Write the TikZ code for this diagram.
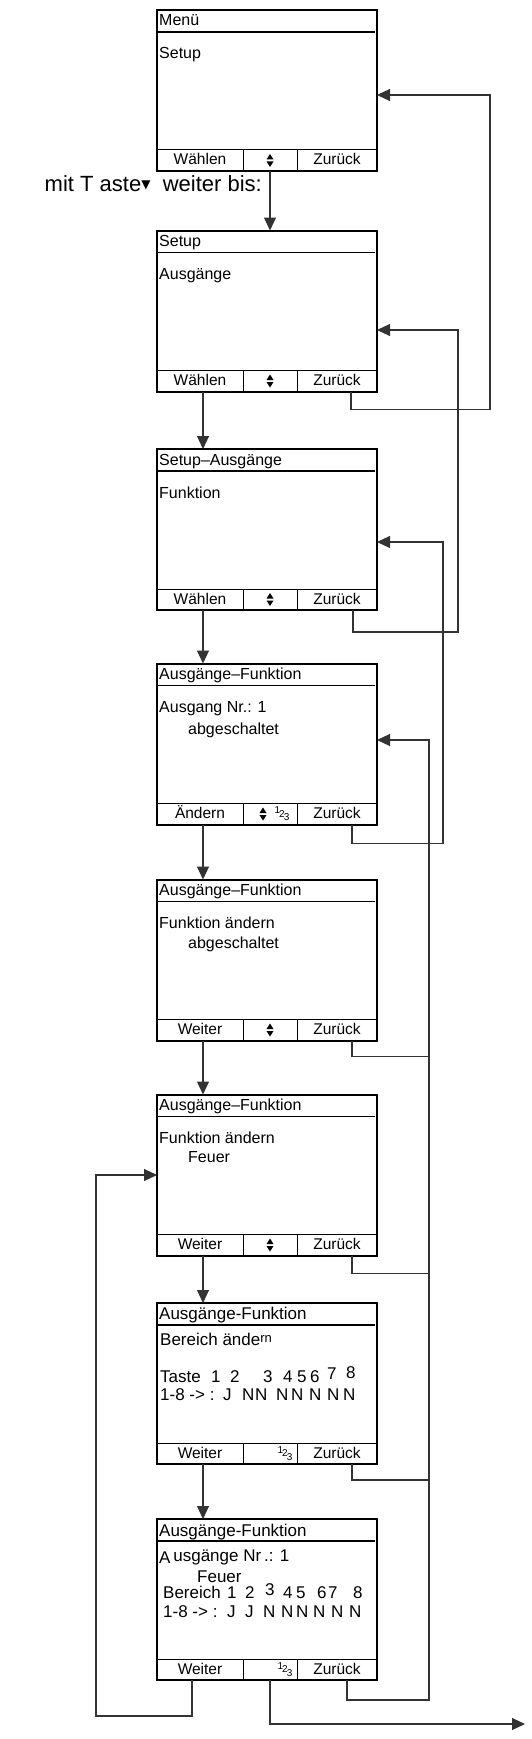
\documentclass[tikz,border=0pt]{standalone}
\usepackage{fontspec}
\setmainfont{Liberation Sans}
\newfontfamily\symfont{DejaVu Sans}
\usetikzlibrary{arrows.meta}
\newcommand{\onetwothree}{\fontsize{10}{10}\selectfont\raisebox{3.5pt}{1}\kern-1pt2\kern-1pt\raisebox{-3.5pt}{3}}
\begin{document}
\begin{tikzpicture}[x=1pt,y=-1pt,
	font=\fontsize{16}{19}\selectfont,
	screen/.style={draw,line width=2pt,minimum width=220pt,minimum height=161pt,inner sep=0pt,outer sep=0pt},
	cell/.style={draw,line width=1pt,minimum height=21pt,inner sep=0pt,outer sep=0pt,
		text height=9pt,text depth=0pt,font=\fontsize{15.5}{16}\selectfont},
	hline/.style={line width=1.2pt},
	txt/.style={anchor=base west,inner sep=0pt},
	big/.style={font=\fontsize{17}{20}\selectfont},
	arr/.style={line width=1.1pt,black!80,-{Triangle[length=13pt,width=12pt]}},
	link/.style={line width=1.1pt,black!80},
	updown/.pic={\fill (-3.5,-1) -- (3.5,-1) -- (0,-6.5) -- cycle (-3.5,1) -- (3.5,1) -- (0,6.5) -- cycle;}]
\useasboundingbox (0,0) rectangle (531,1739);

\node[screen] (s1) at (267,90.5) {};
\node[screen] (s2) at (267,311) {};
\node[screen] (s3) at (267,529.5) {};
\node[screen] (s4) at (267,744) {};
\node[screen] (s5) at (267,960) {};
\node[screen] (s6) at (267,1175) {};
\node[screen] (s7) at (267,1383.5) {};
\node[screen] (s8) at (267,1599.5) {};

\foreach \s/\a/\c in {s1/Wählen/Zurück,s2/Wählen/Zurück,s3/Wählen/Zurück,s4/Ändern/Zurück,
		s5/Weiter/Zurück,s6/Weiter/Zurück,s7/Weiter/Zurück,s8/Weiter/Zurück}{
	\draw[hline] ([yshift=-22pt]\s.north west) -- ([xshift=-2pt,yshift=-22pt]\s.north east);
	\node[cell,minimum width=86pt,anchor=south west] (\s-w) at (\s.south west) {\a};
	\node[cell,minimum width=54pt,anchor=south west] (\s-m) at (\s-w.south east) {};
	\node[cell,minimum width=80pt,anchor=south west] (\s-z) at (\s-m.south east) {\c};
}
\foreach \s in {s1,s2,s3,s5,s6}
	\pic at (\s-m) {updown};
\pic at ([xshift=-7pt]s4-m) {updown};
\node[inner sep=0pt] (s4-n) at ([xshift=12pt]s4-m) {\onetwothree};
\node[inner sep=0pt] (s7-n) at ([xshift=15pt]s7-m) {\onetwothree};
\node[inner sep=0pt] (s8-n) at ([xshift=15pt]s8-m) {\onetwothree};

\foreach \s/\t/\a in {s1/Menü/Setup,s2/Setup/Ausgänge,s3/Setup--Ausgänge/Funktion,
		s4/Ausgänge--Funktion/Ausgang Nr.: 1,s5/Ausgänge--Funktion/Funktion ändern,
		s6/Ausgänge--Funktion/Funktion ändern}{
	\node[txt] (\s-t) at ([xshift=2pt,yshift=-16pt]\s.north west) {\t};
	\node[txt] (\s-a) at ([xshift=2pt,yshift=-49pt]\s.north west) {\a};
}
\node[txt] (s4-b) at ([xshift=31pt,yshift=-71pt]s4.north west) {abgeschaltet};
\node[txt] (s5-b) at ([xshift=31pt,yshift=-69pt]s5.north west) {abgeschaltet};
\node[txt] (s6-b) at ([xshift=31pt,yshift=-68pt]s6.north west) {Feuer};

\node[txt,big] (s7-t) at ([xshift=2pt,yshift=-16pt]s7.north west) {Ausgänge-Funktion};
\node[txt,big] (s7-a) at ([xshift=3pt,yshift=-42pt]s7.north west) {Bereich ände\raisebox{3pt}{\fontsize{13}{13}\selectfont rn}};
\node[txt,big] (s7-k) at (160,1382) {Taste};
\foreach \d/\x/\r in {1/211/0,2/230/0,3/263/0,4/283/0,5/297/0,6/310/0,7/327/3,8/346/4}
	\node[txt,big] at (\x,1382-\r) {\d};
\node[txt,big] (s7-j) at (160,1400) {1-8 -> :};
\foreach \c/\x in {J/223,N/242,N/255,N/276,N/291,N/309,N/327,N/343}
	\node[txt,big] at (\x,1400) {\c};

\node[txt,big] (s8-t) at ([xshift=2pt,yshift=-17pt]s8.north west) {Ausgänge-Funktion};
\node[txt,big] (s8-a) at ([xshift=2pt,yshift=-42pt]s8.north west) {\raisebox{-2pt}{A}\,usgänge Nr\,.: 1};
\node[txt,big] (s8-b) at (197,1582) {Feuer};
\node[txt,big] (s8-k) at (163,1598) {Bereich};
\foreach \d/\x/\r in {1/227/0,2/245/0,3/265/3,4/283/0,5/296/0,6/317/0,7/328/0,8/353/0}
	\node[txt,big] at (\x,1598-\r) {\d};
\node[txt,big] (s8-j) at (163,1617) {1-8 -> :};
\foreach \c/\x in {J/227,J/245,N/263,N/281,N/296,N/313,N/331,N/349}
	\node[txt,big] at (\x,1617) {\c};

\node[anchor=base east,inner sep=0pt,font=\fontsize{22}{26}\selectfont] (hint)
	at ([xshift=-8pt,yshift=-21pt]s1-m.south) {mit T aste\raisebox{3pt}{\symfont\fontsize{12}{12}\selectfont ▼}\ \ weiter bis:};

\draw[arr] (s1-m.south) -- (s1-m.south |- s2.north);
\foreach \a/\b in {s2/s3,s3/s4,s4/s5,s5/s6,s6/s7,s7/s8}
	\draw[arr] ([xshift=3pt]\a-w.south) -- ([xshift=3pt]\a-w.south |- \b.north);

\draw[arr] ([xshift=14pt]s2-z.south) -- ++(0,18) -| ([xshift=113pt,yshift=-4.5pt]s1.east) -- ([yshift=-4.5pt]s1.east);
\draw[arr] ([xshift=16pt]s3-z.south) -- ++(0,22) -| ([xshift=81pt,yshift=-19pt]s2.east) -- ([yshift=-19pt]s2.east);
\draw[arr] ([xshift=15pt]s4-z.south) -- ++(0,19) -| ([xshift=66pt,yshift=-12.5pt]s3.east) -- ([yshift=-12.5pt]s3.east);
\coordinate (lane) at ([xshift=52pt,yshift=4pt]s4.east);
\draw[arr] ([xshift=10pt]s8-z.south) -- ++(0,20) -| (lane) -- ([yshift=4pt]s4.east);
\foreach \s/\d in {s5/16,s6/18,s7/16}
	\draw[link] ([xshift=15pt]\s-z.south) -- ++(0,\d) coordinate (\s-j) -- (\s-j -| lane);

\draw[arr] ([xshift=-8pt]s8-w.south) -- ++(0,36) -| ([xshift=-61pt]s6.west) -- (s6.west);
\coordinate (exit) at (525,1724);
\draw[arr] (s8-m.south) |- (exit);
\end{tikzpicture}
\end{document}
